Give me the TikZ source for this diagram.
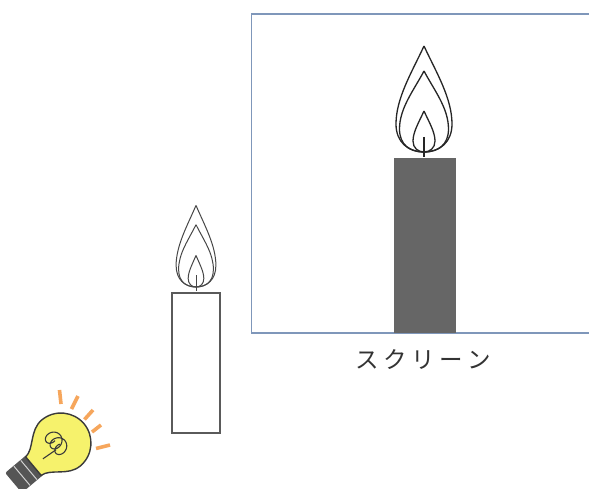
\documentclass[tikz,border=0pt]{standalone}
\usepackage{fontspec}
\newfontfamily\cjk{Noto Sans CJK JP}
\definecolor{framecol}{HTML}{7F97BA}
\definecolor{waxdark}{HTML}{666666}
\definecolor{candleline}{HTML}{5A5A5A}
\definecolor{glass}{HTML}{F6F26C}
\definecolor{bulbline}{HTML}{3A3A3A}
\definecolor{capcol}{HTML}{555555}
\definecolor{raycol}{HTML}{F6A65C}
\tikzset{
  screenframe/.style={draw=framecol, line width=1.4pt},
  flameline/.style={line width=1.3pt, draw=black!85},
  smallflameline/.style={line width=1pt, draw=black!72},
  ray/.style={draw=raycol, line width=3.6pt},
  flame/.pic={
    % outer tongue
    \draw[pic actions] (0,-106) .. controls (-12,-80) and (-28,-54) .. (-28,-28)
      .. controls (-28,-10) and (-16,0) .. (0,0)
      .. controls (16,0) and (28,-10) .. (28,-28)
      .. controls (28,-54) and (12,-80) .. (0,-106);
    % middle tongue
    \draw[pic actions] (0,-81) .. controls (-10,-62) and (-24.5,-44) .. (-24.5,-23)
      .. controls (-24.5,-7) and (-14,0) .. (0,0)
      .. controls (14,0) and (24.5,-7) .. (24.5,-23)
      .. controls (24.5,-44) and (10,-62) .. (0,-81);
    % inner tongue
    \draw[pic actions] (0,-41) .. controls (-5,-30) and (-11,-20) .. (-11,-11)
      .. controls (-11,-4) and (-6,0) .. (0,0)
      .. controls (6,0) and (11,-4) .. (11,-11)
      .. controls (11,-20) and (5,-30) .. (0,-41);
    % wick
    \draw[pic actions] (0,-15) -- (0,5);
  }
}
\begin{document}
\begin{tikzpicture}[x=1pt,y=-1pt]
\useasboundingbox (0,0) rectangle (589,489);
\clip (0,0) rectangle (589,489);
\fill[white] (0,0) rectangle (589,489);

% screen (open to the right)
\draw[screenframe] (600,14) -- (251.5,14) -- (251.5,333) -- (600,333);

% shadow candle on the screen
\fill[waxdark] (394,158) rectangle (455.5,333);
\pic[flameline] at (424,152) {flame};

% caption
\node[anchor=base, text=black!80, font=\cjk\fontsize{23.5}{24}\selectfont, inner sep=0]
  (caption) at (423,368) {ス\hspace{4.5pt}ク\hspace{4.5pt}リ\hspace{4.5pt}ー\hspace{4.5pt}ン};

% real candle
\draw[draw=candleline, line width=1.2pt] (172,293) rectangle (220,433);
\pic[smallflameline, xscale=0.71, yscale=0.77] at (196,287) {flame};

% light bulb
\begin{scope}[shift={(61,443)}, rotate=-50]
  % screw cap
  \fill[capcol, rounded corners=2pt] (-13,33) rectangle (13,62);
  \draw[white!65!gray, line width=1pt] (-12.5,42) -- (12.5,42);
  \draw[white!65!gray, line width=1pt] (-12.5,51) -- (12.5,51);
  % glass
  \draw[fill=glass, draw=bulbline, line width=1.4pt]
    (-12,36) .. controls (-13,24) and (-30,16) .. (-30,0)
    .. controls (-30,-17) and (-16,-30) .. (0,-30)
    .. controls (16,-30) and (30,-17) .. (30,0)
    .. controls (30,16) and (13,24) .. (12,36) -- cycle;
  % filament
  \draw[bulbline, line width=1.1pt, smooth]
    plot[domain=90:1000, samples=140]
      ({-14 + \x/1080*22 + 6.5*sin(\x)}, {3 - 7.5*cos(\x)});
  \draw[bulbline, line width=1.1pt] (2,8) -- (0.5,24);
\end{scope}

% rays
\draw[ray] (59.5,390) -- (61,404);
\draw[ray] (78,396) -- (71.5,409);
\draw[ray] (93,410) -- (84.5,419.5);
\draw[ray] (101,425) -- (92,432);
\draw[ray] (110,445) -- (96,448.5);
\end{tikzpicture}
\end{document}
